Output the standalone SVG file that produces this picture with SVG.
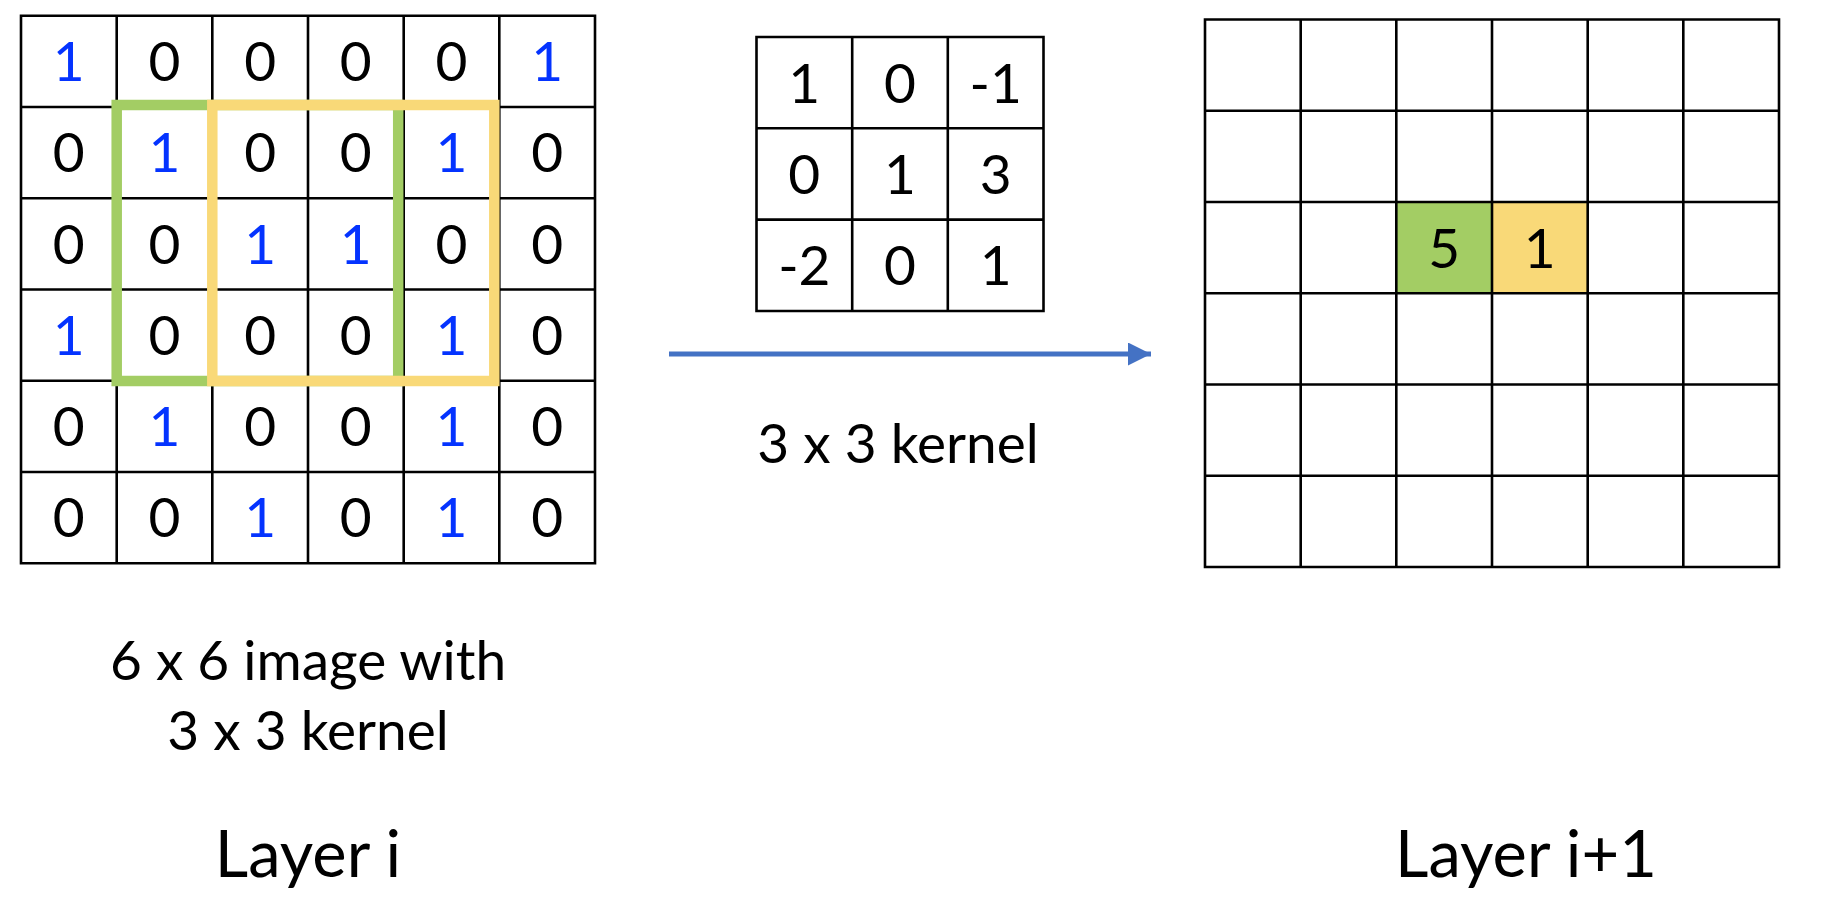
<svg xmlns="http://www.w3.org/2000/svg" width="1824" height="904" viewBox="0 0 1824 904">
<defs>
<style>
.g{fill:none;stroke:#000;stroke-width:2.6}
.d{font-family:Lato,"Liberation Sans",sans-serif;font-size:55px;text-anchor:middle;fill:#000}
.b{fill:#0433FF}
.cap{font-family:Lato,"Liberation Sans",sans-serif;font-size:55px;text-anchor:middle;fill:#000}
.lay{font-family:Lato,"Liberation Sans",sans-serif;font-size:65px;text-anchor:middle;fill:#000}
</style>
<marker id="ah" viewBox="0 0 10 10" refX="10" refY="5" markerWidth="4.6" markerHeight="4.6" markerUnits="strokeWidth" orient="auto">
<path d="M0,0 L10,5 L0,10 z" fill="#4472C4"/>
</marker>
</defs>
<rect width="1824" height="904" fill="#fff"/>

<g id="layer-i">
<path class="g" d="M21,15.7H595V563.3H21Z M116.7,15.7V563.3 M212.3,15.7V563.3 M308,15.7V563.3 M403.7,15.7V563.3 M499.3,15.7V563.3 M21,107H595 M21,198.2H595 M21,289.5H595 M21,380.8H595 M21,472H595"/>
<g>
<text class="d b" x="68.8" y="81">1</text><text class="d" x="164.5" y="81">0</text><text class="d" x="260.2" y="81">0</text><text class="d" x="355.8" y="81">0</text><text class="d" x="451.5" y="81">0</text><text class="d b" x="547.2" y="81">1</text>
<text class="d" x="68.8" y="172.3">0</text><text class="d b" x="164.5" y="172.3">1</text><text class="d" x="260.2" y="172.3">0</text><text class="d" x="355.8" y="172.3">0</text><text class="d b" x="451.5" y="172.3">1</text><text class="d" x="547.2" y="172.3">0</text>
<text class="d" x="68.8" y="263.6">0</text><text class="d" x="164.5" y="263.6">0</text><text class="d b" x="260.2" y="263.6">1</text><text class="d b" x="355.8" y="263.6">1</text><text class="d" x="451.5" y="263.6">0</text><text class="d" x="547.2" y="263.6">0</text>
<text class="d b" x="68.8" y="354.9">1</text><text class="d" x="164.5" y="354.9">0</text><text class="d" x="260.2" y="354.9">0</text><text class="d" x="355.8" y="354.9">0</text><text class="d b" x="451.5" y="354.9">1</text><text class="d" x="547.2" y="354.9">0</text>
<text class="d" x="68.8" y="446.1">0</text><text class="d b" x="164.5" y="446.1">1</text><text class="d" x="260.2" y="446.1">0</text><text class="d" x="355.8" y="446.1">0</text><text class="d b" x="451.5" y="446.1">1</text><text class="d" x="547.2" y="446.1">0</text>
<text class="d" x="68.8" y="537.4">0</text><text class="d" x="164.5" y="537.4">0</text><text class="d b" x="260.2" y="537.4">1</text><text class="d" x="355.8" y="537.4">0</text><text class="d b" x="451.5" y="537.4">1</text><text class="d" x="547.2" y="537.4">0</text>
</g>
<rect id="window-green" x="116.7" y="105" width="281.5" height="276" fill="none" stroke="#A3CD64" stroke-width="10.5"/>
<rect id="window-yellow" x="212.3" y="105" width="282" height="276" fill="none" stroke="#F9D978" stroke-width="10.5"/>
<text class="cap" x="308" y="680">6 x 6 image with</text>
<text class="cap" x="308" y="750">3 x 3 kernel</text>
<text class="lay" x="308" y="877">Layer i</text>
</g>

<g id="kernel">
<path class="g" d="M756.5,37H1043.5V311H756.5Z M852.2,37V311 M947.8,37V311 M756.5,128.3H1043.5 M756.5,219.6H1043.5"/>
<text class="d" x="804.3" y="102.6">1</text><text class="d" x="900" y="102.6">0</text><text class="d" x="995.7" y="102.6">-1</text>
<text class="d" x="804.3" y="193.9">0</text><text class="d" x="900" y="193.9">1</text><text class="d" x="995.7" y="193.9">3</text>
<text class="d" x="804.3" y="285.2">-2</text><text class="d" x="900" y="285.2">0</text><text class="d" x="995.7" y="285.2">1</text>
<text class="cap" x="898" y="463">3 x 3 kernel</text>
</g>

<g id="connectors">
<line x1="669" y1="354" x2="1151" y2="354" stroke="#4472C4" stroke-width="5" marker-end="url(#ah)"/>
</g>

<g id="layer-i1">
<rect x="1396.3" y="202" width="95.7" height="91.3" fill="#A3CD64"/>
<rect x="1492" y="202" width="95.7" height="91.3" fill="#F9D978"/>
<path class="g" d="M1205,19.5H1779V567H1205Z M1300.7,19.5V567 M1396.3,19.5V567 M1492,19.5V567 M1587.7,19.5V567 M1683.3,19.5V567 M1205,110.8H1779 M1205,202H1779 M1205,293.3H1779 M1205,384.5H1779 M1205,475.8H1779"/>
<text class="d" x="1444.2" y="267.6">5</text>
<text class="d" x="1539.8" y="267.6">1</text>
<text class="lay" x="1526" y="877">Layer i+1</text>
</g>
</svg>
